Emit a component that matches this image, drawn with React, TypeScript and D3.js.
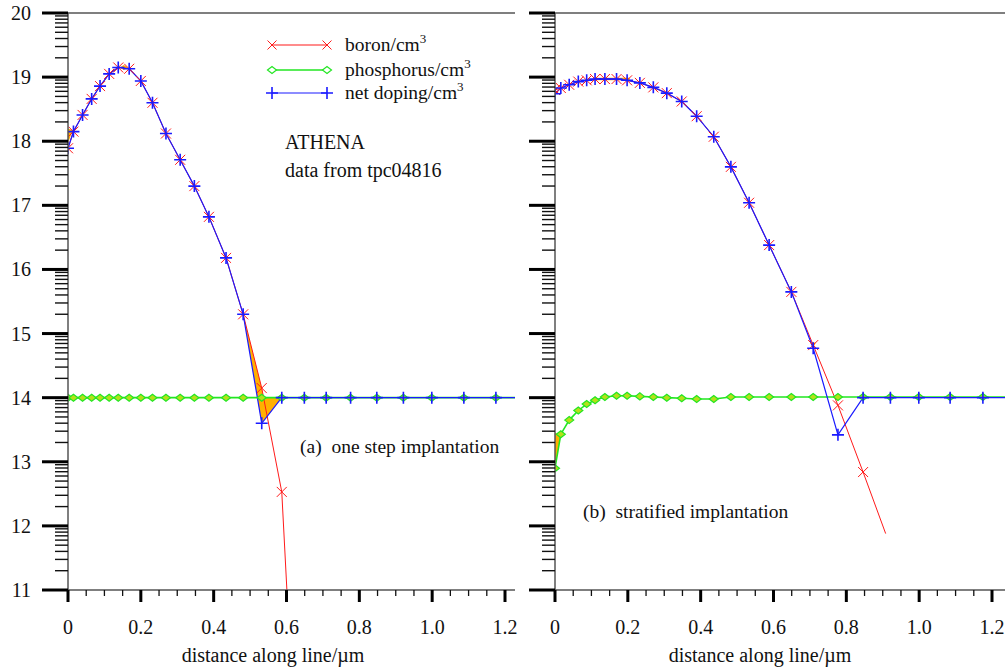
import React, { useEffect, useRef } from 'react';
import * as d3 from 'd3';

// shared mesh of the cut lines (µm)
const xMeshA = [0, 0.015, 0.040, 0.065, 0.088, 0.113, 0.138, 0.168, 0.200, 0.232, 0.269, 0.308, 0.347, 0.387, 0.434, 0.481, 0.532, 0.587, 0.649, 0.709, 0.776, 0.848, 0.921, 0.999, 1.087, 1.175, 1.263];
const boronA = [17.89, 18.15, 18.41, 18.66, 18.86, 19.05, 19.15, 19.13, 18.94, 18.60, 18.12, 17.71, 17.30, 16.82, 16.18, 15.30, 14.15, 12.53, 5.8];
const phosA = [14.0, 14.0, 14.0, 14.0, 14.0, 14.0, 14.0, 14.0, 14.0, 14.0, 14.0, 14.0, 14.0, 14.0, 14.0, 14.0, 14.0, 14.0, 14.0, 14.0, 14.0, 14.0, 14.0, 14.0, 14.0, 14.0, 14.0];
const netA = [17.89, 18.15, 18.41, 18.66, 18.86, 19.05, 19.15, 19.13, 18.94, 18.60, 18.12, 17.71, 17.30, 16.82, 16.18, 15.30, 13.60, 14.0, 14.0, 14.0, 14.0, 14.0, 14.0, 14.0, 14.0, 14.0, 14.0];

const xMeshB = [0, 0.016, 0.039, 0.064, 0.087, 0.110, 0.137, 0.169, 0.198, 0.233, 0.270, 0.307, 0.348, 0.389, 0.436, 0.483, 0.533, 0.588, 0.649, 0.709, 0.777, 0.846, 0.921, 0.999, 1.085, 1.175, 1.263];
const boronB = [18.80, 18.83, 18.88, 18.93, 18.95, 18.97, 18.97, 18.97, 18.95, 18.91, 18.84, 18.75, 18.62, 18.39, 18.07, 17.60, 17.04, 16.38, 15.65, 14.82, 13.88, 12.84];
const boronBTail = [0.908, 11.88]; // line end, no marker
const phosB = [12.90, 13.43, 13.65, 13.80, 13.90, 13.96, 14.01, 14.03, 14.03, 14.02, 14.01, 14.0, 13.99, 13.98, 13.98, 14.01, 14.01, 14.01, 14.01, 14.01, 14.01, 14.01, 14.01, 14.01, 14.01, 14.01, 14.01];
const netB = [18.74, 18.83, 18.88, 18.93, 18.95, 18.97, 18.97, 18.97, 18.95, 18.91, 18.84, 18.75, 18.62, 18.39, 18.07, 17.60, 17.04, 16.38, 15.65, 14.77, 13.42, 14.0, 14.0, 14.0, 14.0, 14.0, 14.0];

// orange filled regions [x, log conc]
const orangeA = [
  [[0.481, 15.30], [0.532, 14.15], [0.537, 14.0], [0.587, 14.0], [0.532, 13.60]],
  [[0, 17.97], [0, 18.2], [0.013, 18.17]],
  [[0.142, 19.15], [0.153, 19.19], [0.165, 19.15], [0.153, 19.11]],
];
const orangeB = [
  [[0, 12.9], [0.016, 13.43], [0, 13.45]],
  [[0.700, 14.86], [0.716, 14.86], [0.709, 14.78]],
  [[0.105, 18.99], [0.205, 18.99], [0.205, 18.95], [0.105, 18.95]],
];

const yMajor = [11, 12, 13, 14, 15, 16, 17, 18, 19, 20];
const xMajor = [0, 0.2, 0.4, 0.6, 0.8, 1.0, 1.2];
const xTickLabels = ['0', '0.2', '0.4', '0.6', '0.8', '1.0', '1.2'];
const legendLabels = ['boron/cm', 'phosphorus/cm', 'net doping/cm'];

const FONT = '"Liberation Serif", "Times New Roman", serif';
const RED = '#ff1a1a';
const GREEN = '#22e622';
const BLUE = '#1a1aff';

function App() {
  const svgRef = useRef(null);

  useEffect(() => {
    const svg = d3.select(svgRef.current);
    svg.selectAll('*').remove();

    const yTop = 13, yBot = 590;
    const y = d3.scaleLinear().domain([11, 20]).range([yBot, yTop]);

    function xMark(g, pts, xs, ys, half) {
      g.selectAll(null).data(pts).enter().append('path')
        .attr('d', d => {
          const cx = xs(d[0]), cy = ys(d[1]);
          return `M${cx - half},${cy - half}L${cx + half},${cy + half}M${cx - half},${cy + half}L${cx + half},${cy - half}`;
        })
        .attr('stroke', RED).attr('stroke-width', 1).attr('fill', 'none');
    }
    function plusMark(g, pts, xs, ys, half) {
      g.selectAll(null).data(pts).enter().append('path')
        .attr('d', d => {
          const cx = xs(d[0]), cy = ys(d[1]);
          return `M${cx - half},${cy}L${cx + half},${cy}M${cx},${cy - half}L${cx},${cy + half}`;
        })
        .attr('stroke', BLUE).attr('stroke-width', 1.6).attr('fill', 'none');
    }
    function diamondMark(g, pts, xs, ys, w, h, fill) {
      g.selectAll(null).data(pts).enter().append('path')
        .attr('d', d => {
          const cx = xs(d[0]), cy = ys(d[1]);
          return `M${cx - w},${cy}L${cx},${cy - h}L${cx + w},${cy}L${cx},${cy + h}Z`;
        })
        .attr('stroke', GREEN).attr('stroke-width', 1.2).attr('fill', fill);
    }

    function drawPanel(id, x0, xRight, mesh, boron, phos, net, oranges, boronExtra, showYLabels) {
      const x = d3.scaleLinear().domain([0, 1.2]).range([x0, x0 + 437]);
      const root = svg.append('g');

      const clipId = `clip-${id}`;
      svg.append('defs').append('clipPath').attr('id', clipId)
        .append('rect').attr('x', x0).attr('y', yTop).attr('width', xRight - x0).attr('height', yBot - yTop);

      const plot = root.append('g').attr('clip-path', `url(#${clipId})`);

      // orange regions
      plot.selectAll('polygon.or').data(oranges).enter().append('polygon')
        .attr('points', d => d.map(p => `${x(p[0])},${y(p[1])}`).join(' '))
        .attr('fill', '#ffb000').attr('stroke', 'none');

      const line = d3.line().x(d => x(d[0])).y(d => y(d[1]));
      const bPts = boron.map((v, i) => [mesh[i], v]);
      const pPts = phos.map((v, i) => [mesh[i], v]);
      const nPts = net.map((v, i) => [mesh[i], v]);
      const bLine = boronExtra ? bPts.concat([boronExtra]) : bPts;

      plot.append('path').attr('d', line(pPts)).attr('fill', 'none').attr('stroke', GREEN).attr('stroke-width', 1.6);
      plot.append('path').attr('d', line(bLine)).attr('fill', 'none').attr('stroke', RED).attr('stroke-width', 1);
      plot.append('path').attr('d', line(nPts)).attr('fill', 'none').attr('stroke', BLUE).attr('stroke-width', 1.2);

      diamondMark(plot, pPts, x, y, 4.5, 3.5, '#b4e01a');
      xMark(plot, bPts, x, y, 5);
      plusMark(plot, nPts, x, y, 6);

      // frame
      root.append('line').attr('x1', x0).attr('x2', xRight).attr('y1', yTop).attr('y2', yTop)
        .attr('stroke', '#555').attr('stroke-width', 1.5);
      root.append('line').attr('x1', x0).attr('x2', x0).attr('y1', yTop).attr('y2', yBot)
        .attr('stroke', '#555').attr('stroke-width', 1.5);
      root.append('line').attr('x1', x0).attr('x2', xRight).attr('y1', yBot).attr('y2', yBot)
        .attr('stroke', '#555').attr('stroke-width', 1.5);

      // y ticks: major + log minor
      const minor = [];
      yMajor.slice(0, -1).forEach(n => d3.range(2, 10).forEach(k => minor.push(n + Math.log10(k))));
      root.selectAll(null).data(minor).enter().append('line')
        .attr('x1', x0 - 13).attr('x2', x0).attr('y1', d => y(d)).attr('y2', d => y(d))
        .attr('stroke', '#111').attr('stroke-width', 1.4);
      root.selectAll(null).data(yMajor).enter().append('line')
        .attr('x1', x0 - 26).attr('x2', x0).attr('y1', d => y(d)).attr('y2', d => y(d))
        .attr('stroke', '#000').attr('stroke-width', 3);
      if (showYLabels) {
        root.selectAll(null).data(yMajor).enter().append('text')
          .attr('x', 31).attr('y', d => y(d)).attr('dy', '0.35em')
          .attr('text-anchor', 'end')
          .style('font-family', FONT).style('font-size', '20px').style('fill', '#111')
          .text(d => d);
      }

      // x ticks
      const xMinor = d3.range(0, 1.26, 0.05).filter(v => Math.abs(v * 5 - Math.round(v * 5)) > 1e-6 && x(v) <= xRight);
      root.selectAll(null).data(xMinor).enter().append('line')
        .attr('x1', d => x(d)).attr('x2', d => x(d)).attr('y1', yBot).attr('y2', yBot + 6)
        .attr('stroke', '#111').attr('stroke-width', 1.3);
      root.selectAll(null).data(xMajor).enter().append('line')
        .attr('x1', d => x(d)).attr('x2', d => x(d)).attr('y1', yBot).attr('y2', yBot + 12)
        .attr('stroke', '#000').attr('stroke-width', 3);
      root.selectAll(null).data(xMajor).enter().append('text')
        .attr('x', d => x(d)).attr('y', 627).attr('dy', '0.35em')
        .attr('text-anchor', 'middle')
        .style('font-family', FONT).style('font-size', '20px').style('fill', '#111')
        .text((d, i) => xTickLabels[i]);

      root.append('text')
        .attr('x', x0 + 205).attr('y', 655).attr('dy', '0.35em')
        .attr('text-anchor', 'middle')
        .style('font-family', FONT).style('font-size', '20px').style('fill', '#111')
        .text('distance along line/\u00b5m');
    }

    drawPanel('a', 68, 515, xMeshA, boronA, phosA, netA, orangeA, null, true);
    drawPanel('b', 555, 1005, xMeshB, boronB, phosB, netB, orangeB, boronBTail, false);

    // legend
    const lg = svg.append('g');
    const lx1 = 272, lx2 = 327;
    const rows = [45, 70, 93];
    const ident = v => v;
    rows.forEach((ry, i) => {
      const col = [RED, GREEN, BLUE][i];
      lg.append('line').attr('x1', lx1).attr('x2', lx2).attr('y1', ry).attr('y2', ry)
        .attr('stroke', col).attr('stroke-width', i === 1 ? 1.6 : 1.2);
      const pts = [[lx1, ry], [lx2, ry]];
      if (i === 0) xMark(lg, pts, ident, ident, 4.5);
      if (i === 1) diamondMark(lg, pts, ident, ident, 4.5, 3.5, '#ffffff');
      if (i === 2) plusMark(lg, pts, ident, ident, 6);
      const t = lg.append('text').attr('x', 345).attr('y', ry + 6)
        .style('font-family', FONT).style('font-size', '19.5px').style('fill', '#111');
      t.append('tspan').text(legendLabels[i]);
      t.append('tspan').attr('dy', -8).style('font-size', '13px').text('3');
    });

    const txt = (s, tx, ty, fs) => svg.append('text').attr('x', tx).attr('y', ty)
      .style('font-family', FONT).style('font-size', fs).style('fill', '#111')
      .style('white-space', 'pre').text(s);
    txt('ATHENA', 285, 149, '20px');
    txt('data from tpc04816', 285, 177, '20px');
    txt('(a)  one step implantation', 300, 453, '19.5px');
    txt('(b)  stratified implantation', 583, 518, '19.5px');
  }, []);

  return (
    <svg ref={svgRef} width={1005} height={670}
      style={{ position: 'absolute', left: 0, top: 0, background: '#fff' }} />
  );
}

export default App;
